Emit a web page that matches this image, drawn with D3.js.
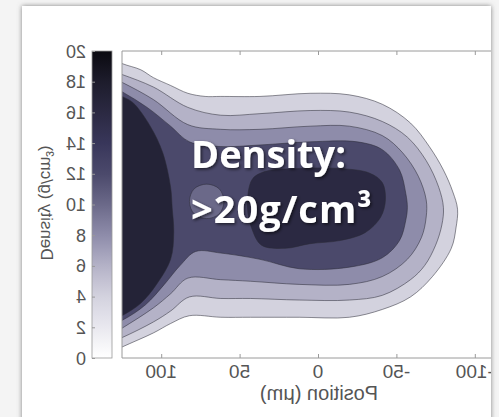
<!DOCTYPE html>
<html>
<head>
<meta charset="utf-8">
<script src="https://cdn.jsdelivr.net/npm/d3@7"></script>
<style>
  body { margin: 0; background: #f4f4f4; }
  svg { display: block; }
</style>
</head>
<body>
<svg id="chart" width="499" height="417"></svg>
<script>
// tick values (the figure is shown mirrored, so +x runs to the left)
var xTicks = [100, 50, 0, -50, -100];
var densityTicks = [0, 2, 4, 6, 8, 10, 12, 14, 16, 18, 20];

// contour lines, [x (µm), y (µm)], closed loops
var contour1 = [[140,97],[125,90],[113,86],[105,81],[94,76],[83,71],[72,69],[62,69],[37,69],[5,71],[-20,70],[-41,64],[-59,52],[-71,37],[-80,22],[-86,8],[-89,-3],[-88,-15],[-85,-28],[-73,-46],[-59,-59],[-41,-67],[-20,-72],[12,-72],[43,-72],[62,-72],[82,-71],[94,-76],[105,-82],[125,-91],[140,-98]];
var contour2 = [[140,88],[125,83],[105,75],[83,62],[62,57],[37,58],[5,60],[-20,59],[-41,53],[-57,43],[-69,28],[-77,11],[-80,-2],[-79,-13],[-75,-26],[-68,-39],[-59,-48],[-41,-58],[-20,-61],[12,-61],[43,-60],[62,-60],[82,-59],[94,-68],[105,-75],[125,-85],[140,-91]];
var contour3 = [[140,85],[125,78],[105,67],[83,51],[62,48],[37,48],[5,50],[-20,50],[-41,44],[-54,33],[-64,18],[-69,3],[-69,-8],[-66,-21],[-57,-35],[-41,-46],[-20,-51],[12,-51],[43,-49],[62,-48],[83,-47],[94,-57],[105,-66],[125,-79],[140,-88]];
var contour4 = [[140,80],[125,72],[109,62],[94,50],[82,40],[62,37],[37,38],[5,40],[-25,40],[-41,35],[-52,22],[-56,7],[-57,-2],[-56,-10],[-52,-23],[-41,-34],[-20,-40],[12,-41],[37,-35],[62,-31],[78,-30],[88,-39],[98,-51],[110,-64],[125,-74],[140,-80]];
var bubble = [[82,2],[79,10],[71,13],[63,10],[60,2],[63,-6],[71,-9],[79,-6]];
var coreLeft = [[140,76],[125,69],[118,65],[107,50],[99,33],[94,11],[93,-2],[92,-18],[94,-35],[103,-51],[113,-63],[125,-71],[140,-78]];
var coreRight = [[45,-2],[42,-16],[36,-26],[21,-28],[5,-25],[-14,-23],[-30,-18],[-40,-8],[-43,3],[-41,14],[-33,20],[-14,23],[12,23],[34,21],[42,16]];

// density inside each loop (g/cm^3), painted outer to inner
var loopValues = [4, 6, 8, 12, 10, 17, 16];
var loops = [contour1, contour2, contour3, contour4, bubble, coreLeft, coreRight];

var svg = d3.select("#chart");
var defs = svg.append("defs");

var densityColor = d3.scaleLinear()
    .domain([0, 2, 4, 6, 8, 10, 12, 14, 16, 18, 20])
    .range(["#ffffff", "#e9e8ef", "#d3d2de", "#b4b2c7", "#8e8caa", "#6b6989",
             "#4b496b", "#38365a", "#2b2942", "#1d1c2c", "#0a0a10"]);

var x = d3.scaleLinear().domain([125, -125]).range([122, 514]);
var y = d3.scaleLinear().domain([-98, 98]).range([358, 51]);
var cb = d3.scaleLinear().domain([0, 20]).range([358, 51]);

// filters and clips
var ps = defs.append("filter").attr("id", "panelShadow")
    .attr("x", "-5%").attr("y", "-5%").attr("width", "110%").attr("height", "110%");
ps.append("feDropShadow").attr("dx", 0).attr("dy", 0).attr("stdDeviation", 2.5)
    .attr("flood-color", "#666").attr("flood-opacity", 0.8);

var ts = defs.append("filter").attr("id", "textShadow")
    .attr("x", "-10%").attr("y", "-20%").attr("width", "130%").attr("height", "150%");
ts.append("feDropShadow").attr("dx", 1.5).attr("dy", 1.5).attr("stdDeviation", 1.5)
    .attr("flood-color", "#000").attr("flood-opacity", 0.6);

defs.append("clipPath").attr("id", "plotClip").append("rect")
    .attr("x", 122).attr("y", 51).attr("width", 392).attr("height", 307);
defs.append("clipPath").attr("id", "panelClip").append("rect")
    .attr("x", 22).attr("y", 6).attr("width", 469).attr("height", 420);

var grad = defs.append("linearGradient").attr("id", "cbGrad")
    .attr("x1", 0).attr("y1", 1).attr("x2", 0).attr("y2", 0);
grad.selectAll("stop").data(d3.range(0, 20.01, 1)).join("stop")
    .attr("offset", function(d) { return d / 20; })
    .attr("stop-color", function(d) { return densityColor(d); });

// panel
svg.append("rect").attr("x", 22).attr("y", 6).attr("width", 469).attr("height", 420)
    .attr("fill", "#fff").attr("filter", "url(#panelShadow)");

var g = svg.append("g").attr("clip-path", "url(#panelClip)");

// contour fills
var contourLine = d3.line()
    .x(function(d) { return x(d[0]); })
    .y(function(d) { return y(d[1]); })
    .curve(d3.curveCatmullRomClosed.alpha(0.5));

g.append("g").attr("clip-path", "url(#plotClip)")
  .selectAll("path").data(loops).join("path")
    .attr("d", contourLine)
    .attr("fill", function(d, i) { return densityColor(loopValues[i]); })
    .attr("stroke", "#2b2a36")
    .attr("stroke-opacity", 0.75)
    .attr("stroke-width", 0.7);

// plot box
var axisColor = "#9a9a9a";
g.append("path")
    .attr("d", "M" + x.range()[1] + "," + y.range()[1] + "H" + x.range()[0] +
               "V" + y.range()[0] + "H" + x.range()[1])
    .attr("fill", "none").attr("stroke", axisColor).attr("stroke-width", 1);

var labelFont = "'Liberation Sans', Arial, sans-serif";
var labelColor = "#555";

// axes: d3 draws the tick marks, the mirrored labels are placed on the tick positions
var xAxis = g.append("g").attr("transform", "translate(0,358)")
    .call(d3.axisBottom(x).tickValues(xTicks).tickSize(-4).tickFormat(""));
xAxis.select(".domain").remove();
xAxis.selectAll("line").attr("stroke", axisColor);

var xTop = g.append("g").attr("transform", "translate(0,51)")
    .call(d3.axisTop(x).tickValues(xTicks).tickSize(-4).tickFormat(""));
xTop.select(".domain").remove();
xTop.selectAll("line").attr("stroke", axisColor);

g.append("g").selectAll("text").data(xTicks).join("text")
    .attr("transform", function(d) { return "translate(" + x(d) + ",378) scale(-1,1)"; })
    .attr("text-anchor", "middle")
    .attr("fill", labelColor).style("font", "19px " + labelFont)
    .text(function(d) { return String(d); });

g.append("text")
    .attr("transform", "translate(319,400) scale(-1,1)")
    .attr("text-anchor", "middle")
    .attr("fill", labelColor).style("font", "20px " + labelFont)
    .text("Position (μm)");

// colorbar
g.append("rect").attr("x", 92).attr("y", 51).attr("width", 20).attr("height", 307)
    .attr("fill", "url(#cbGrad)").attr("stroke", "#999").attr("stroke-width", 0.8);

var cbAxis = g.append("g").attr("transform", "translate(92,0)")
    .call(d3.axisLeft(cb).tickValues(densityTicks).tickSize(-3).tickFormat(""));
cbAxis.select(".domain").remove();
cbAxis.selectAll("line").attr("stroke", "#999");

g.append("g").selectAll("text").data(densityTicks).join("text")
    .attr("transform", function(d) { return "translate(86," + (cb(d) + 6.5) + ") scale(-1,1)"; })
    .attr("text-anchor", "start")
    .attr("fill", labelColor).style("font", "18px " + labelFont)
    .text(function(d) { return String(d); });

g.append("text")
    .attr("transform", "translate(41,203) scale(-1,1) rotate(-90)")
    .attr("text-anchor", "middle")
    .attr("fill", labelColor).style("font", "17px " + labelFont)
    .text("Density (g/cm³)");

// overlay callout
var callout = svg.append("text")
    .attr("fill", "#fff")
    .attr("filter", "url(#textShadow)")
    .style("font", "700 38px 'Open Sans', sans-serif");
callout.append("tspan").attr("x", 191).attr("y", 168).text("Density:");
callout.append("tspan").attr("x", 191).attr("y", 223).attr("letter-spacing", 1).text(">20g/cm³");
</script>
</body>
</html>
